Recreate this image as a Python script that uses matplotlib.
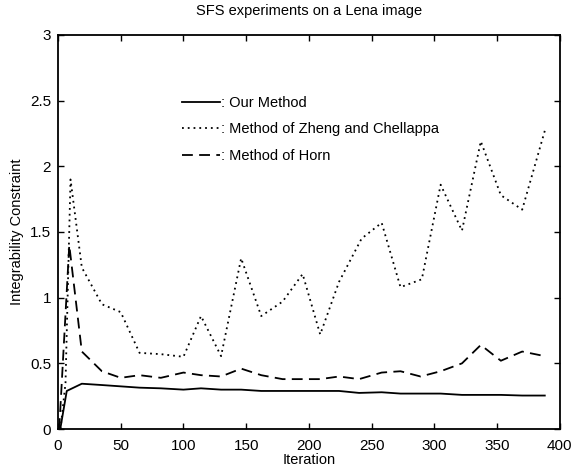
import matplotlib
matplotlib.use("Agg")
import matplotlib.pyplot as plt

plt.rcParams['font.family'] = ['Liberation Sans', 'DejaVu Sans']

# Our Method (solid)
our_x = [2, 7, 19, 35, 50, 65, 82, 100, 114, 130, 146, 162, 179, 195, 209, 224, 240, 258, 273, 290, 305, 322, 337, 353, 370, 388]
our_y = [0.01, 0.29, 0.345, 0.335, 0.325, 0.315, 0.31, 0.30, 0.31, 0.30, 0.30, 0.29, 0.29, 0.29, 0.29, 0.29, 0.275, 0.28, 0.27, 0.27, 0.27, 0.26, 0.26, 0.26, 0.255, 0.255]

# Method of Zheng and Chellappa (dotted)
zc_x = [2, 6, 10, 19, 35, 50, 65, 82, 100, 114, 130, 146, 162, 179, 195, 209, 224, 242, 258, 273, 290, 305, 322, 337, 353, 370, 388]
zc_y = [0.0, 0.35, 1.9, 1.23, 0.95, 0.89, 0.58, 0.57, 0.55, 0.86, 0.555, 1.30, 0.86, 0.97, 1.18, 0.72, 1.12, 1.45, 1.57, 1.08, 1.14, 1.86, 1.51, 2.19, 1.78, 1.67, 2.27]

# Method of Horn (dashed)
horn_x = [1, 9, 19, 35, 50, 65, 82, 100, 114, 130, 146, 162, 179, 195, 209, 224, 240, 258, 273, 289, 305, 322, 337, 353, 370, 388]
horn_y = [0.0, 1.40, 0.59, 0.44, 0.39, 0.41, 0.39, 0.43, 0.41, 0.40, 0.46, 0.41, 0.38, 0.38, 0.38, 0.40, 0.38, 0.43, 0.44, 0.40, 0.44, 0.50, 0.64, 0.52, 0.59, 0.555]

labels = [': Our Method', ': Method of Zheng and Chellappa', ': Method of Horn']
title = 'SFS experiments on a Lena image'
xlabel = 'Iteration'
ylabel = 'Integrability Constraint'
xticks = [0, 50, 100, 150, 200, 250, 300, 350, 400]
yticks = [0, 0.5, 1, 1.5, 2, 2.5, 3]
ytick_labels = ['0', '0.5', '1', '1.5', '2', '2.5', '3']

fig = plt.figure(figsize=(5.88, 4.72), dpi=100)
ax = fig.add_axes([0.0986, 0.091, 0.8535, 0.835])

ax.plot(our_x, our_y, color='black', linestyle='-', linewidth=1.3, label=labels[0])
ax.plot(zc_x, zc_y, color='black', linestyle=(0, (1, 2.2)), linewidth=1.3, label=labels[1])
ax.plot(horn_x, horn_y, color='black', linestyle=(0, (6, 3.5)), linewidth=1.3, label=labels[2])

ax.set_xlim(0, 400)
ax.set_ylim(0, 3)
ax.set_xticks(xticks)
ax.set_yticks(yticks)
ax.set_yticklabels(ytick_labels)
ax.tick_params(direction='in', top=True, right=True, length=4, width=1, labelsize=11)
ax.tick_params(axis='x', pad=7)
ax.tick_params(axis='y', pad=5)
for s in ax.spines.values():
    s.set_linewidth(1.3)

ax.set_title(title, fontsize=10.5, pad=14)
ax.set_xlabel(xlabel, fontsize=10.5, labelpad=0)
ax.set_ylabel(ylabel, fontsize=10.5, labelpad=4)

leg = ax.legend(loc='upper left', bbox_to_anchor=(0.235, 0.86), frameon=False,
                handlelength=2.6, handletextpad=0.1, labelspacing=0.85, fontsize=10.5,
                borderaxespad=0)

fig.savefig('out.png', dpi=100)
